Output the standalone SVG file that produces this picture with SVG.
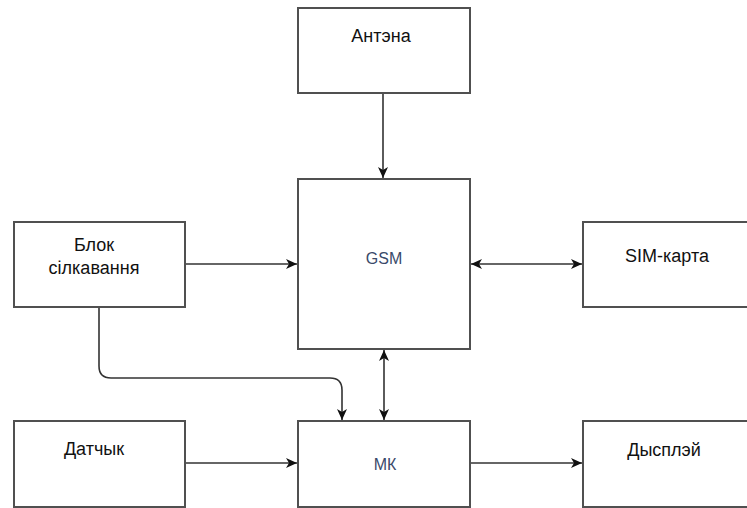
<svg xmlns="http://www.w3.org/2000/svg" width="747" height="508" viewBox="0 0 747 508">
<style>
.box{fill:#fff;stroke:#505050;stroke-width:2}
.lbl{font-family:"Liberation Sans",Arial,sans-serif;font-size:18px;fill:#111;text-anchor:middle}
.sm{font-family:"Liberation Sans",Arial,sans-serif;font-size:16px;fill:#3a4a6a;text-anchor:middle}
.ln{fill:none;stroke:#333;stroke-width:1.6}
</style>
<defs>
<marker id="ah" markerWidth="12" markerHeight="10" refX="11" refY="5" orient="auto-start-reverse" markerUnits="userSpaceOnUse">
<path d="M0,0 L11,5 L0,10 L3,5 Z" fill="#111"/>
</marker>
</defs>
<rect width="747" height="508" fill="#fff"/>
<g id="connectors">
<line class="ln" x1="383" y1="93" x2="383" y2="178" marker-end="url(#ah)"/>
<line class="ln" x1="185" y1="264" x2="297" y2="264" marker-end="url(#ah)"/>
<line class="ln" x1="471" y1="264" x2="582" y2="264" marker-start="url(#ah)" marker-end="url(#ah)"/>
<line class="ln" x1="384" y1="350" x2="384" y2="420" marker-start="url(#ah)" marker-end="url(#ah)"/>
<path class="ln" d="M99,307 L99,366 Q99,378 111,378 L330,378 Q342,378 342,390 L342,420" marker-end="url(#ah)"/>
<line class="ln" x1="185" y1="463" x2="297" y2="463" marker-end="url(#ah)"/>
<line class="ln" x1="470" y1="463" x2="582" y2="463" marker-end="url(#ah)"/>
</g>
<g id="antenna"><rect class="box" x="298" y="8" width="172" height="85"/><text class="lbl" x="381" y="42">Антэна</text></g>
<g id="gsm"><rect class="box" x="298" y="179" width="172" height="170"/><text class="sm" x="384" y="264">GSM</text></g>
<g id="power"><rect class="box" x="14" y="222" width="171" height="85"/><text class="lbl" x="94" y="251">Блок</text><text class="lbl" x="94" y="274">сілкавання</text></g>
<g id="sim"><rect class="box" x="583" y="222" width="172" height="85"/><text class="lbl" x="667" y="262">SIM-карта</text></g>
<g id="sensor"><rect class="box" x="14" y="421" width="171" height="86"/><text class="lbl" x="94" y="455">Датчык</text></g>
<g id="mk"><rect class="box" x="298" y="421" width="172" height="86"/><text class="sm" x="385" y="470">МК</text></g>
<g id="display"><rect class="box" x="583" y="421" width="172" height="86"/><text class="lbl" x="664" y="456">Дысплэй</text></g>
</svg>
